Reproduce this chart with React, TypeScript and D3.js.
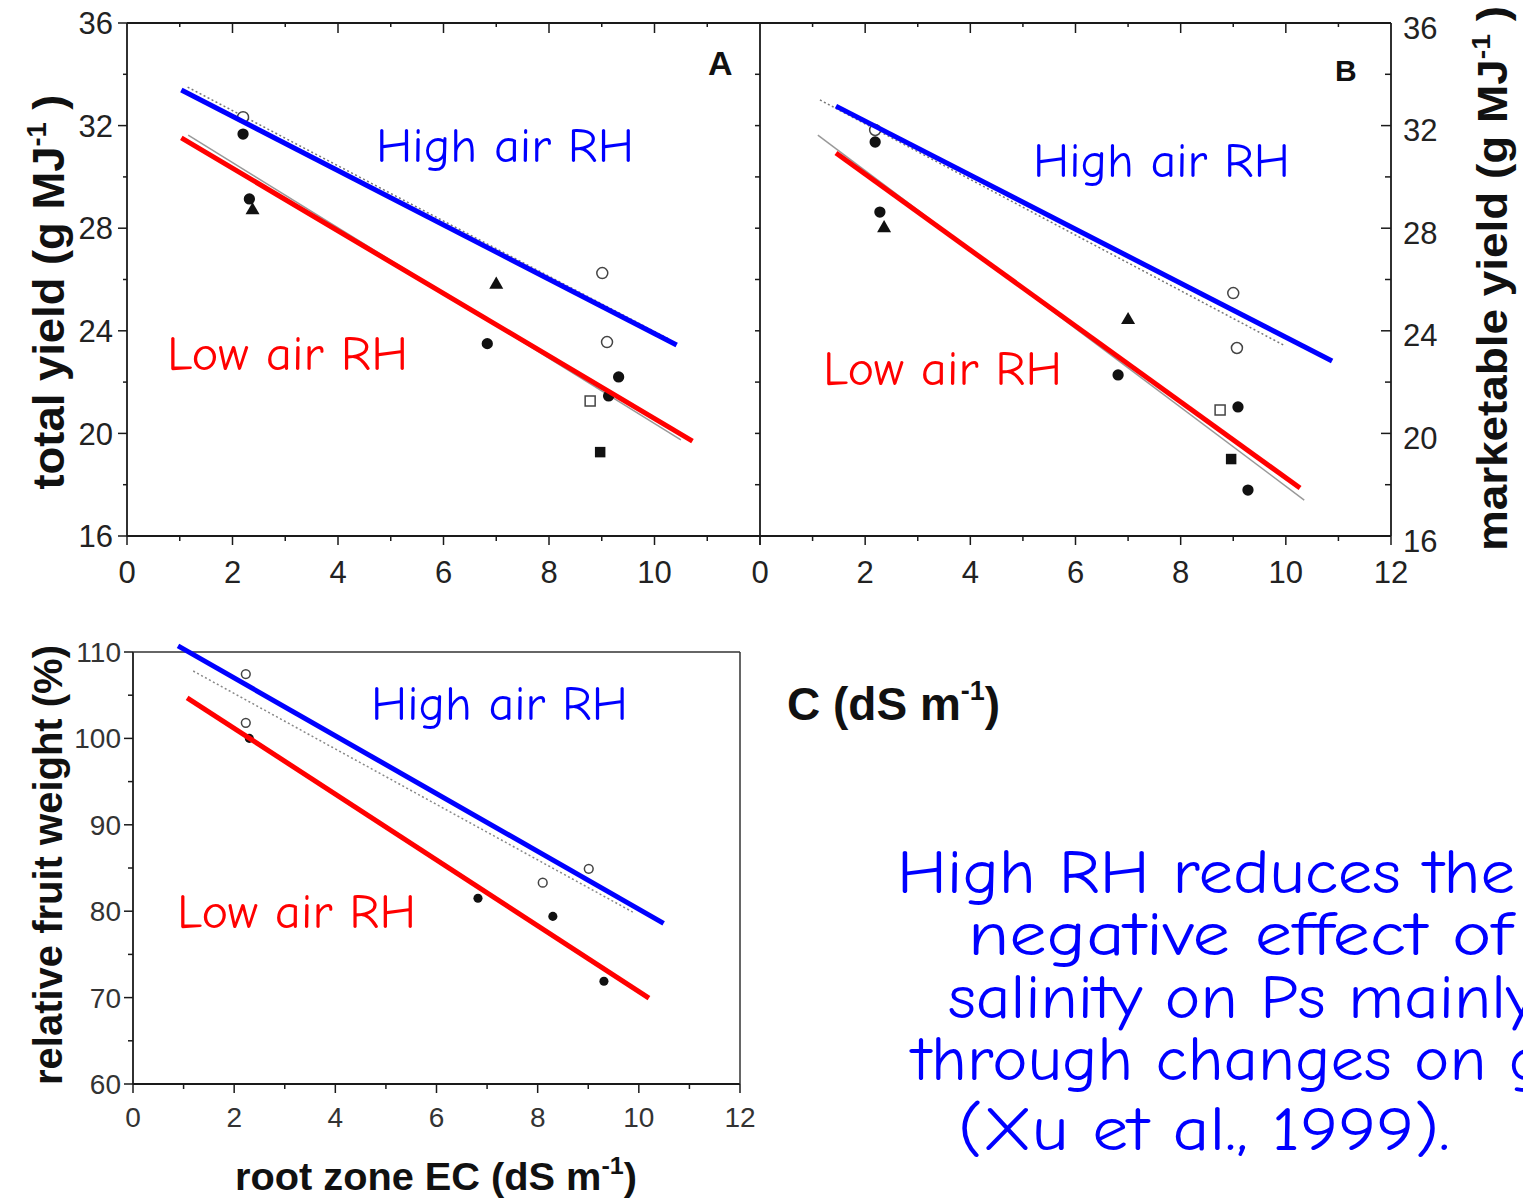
import React from 'react';
import * as d3 from 'd3';

// ---------- data ----------
const xTickValues = [0, 2, 4, 6, 8, 10, 12];
const xMinorTicks = [1, 3, 5, 7, 9, 11];
const xLabelsA = [0, 2, 4, 6, 8, 10];
const xLabelsB = [0, 2, 4, 6, 8, 10, 12];
const yieldTicks = [16, 20, 24, 28, 32, 36];
const yieldMinor = [18, 22, 26, 30, 34];
const fruitTicks = [60, 70, 80, 90, 100, 110];
const fruitMinor = [65, 75, 85, 95, 105];

// Panel A: total yield (g MJ-1) vs root zone EC
const aOpenCircles = [[2.2, 32.33], [9.01, 26.25], [9.1, 23.56]];
const aFilledCircles = [[2.2, 31.67], [2.32, 29.14], [6.83, 23.5], [9.32, 22.2], [9.13, 21.46]];
const aTriangles = [[2.38, 28.7], [7.0, 25.8]];
const aOpenSquares = [[8.78, 21.26]];
const aFilledSquares = [[8.97, 19.27]];
const aHighLine = [[1.03, 33.39], [10.42, 23.45]];
const aLowLine = [[1.03, 31.52], [10.72, 19.7]];
const aHighDotted = [[1.15, 33.5], [10.3, 23.65]];
const aLowGray = [[1.16, 31.63], [10.5, 19.75]];

// Panel B: marketable yield (g MJ-1)
const bOpenCircles = [[2.19, 31.83], [9.0, 25.47], [9.07, 23.33]];
const bFilledCircles = [[2.19, 31.36], [2.28, 28.63], [6.81, 22.28], [9.09, 21.03], [9.28, 17.79]];
const bTriangles = [[2.36, 28.0], [7.0, 24.42]];
const bOpenSquares = [[8.75, 20.91]];
const bFilledSquares = [[8.96, 19.0]];
const bHighLine = [[1.445, 32.76], [10.88, 22.82]];
const bLowLine = [[1.445, 30.93], [10.27, 17.87]];
const bHighDotted = [[1.14, 33.0], [9.95, 23.45]];
const bLowGray = [[1.1, 31.63], [10.35, 17.4]];

// Panel C: relative fruit weight (%)
const cOpenCircles = [[2.23, 107.45], [2.23, 101.8], [8.1, 83.3], [9.01, 84.9]];
const cFilledCircles = [[2.3, 100.0], [6.82, 81.5], [8.3, 79.4], [9.31, 71.9]];
const cHighLine = [[0.89, 110.7], [10.49, 78.6]];
const cLowLine = [[1.07, 104.7], [10.2, 69.95]];
const cHighDotted = [[1.19, 107.8], [9.88, 79.9]];

const noteLines = [
  'High RH reduces the',
  'negative effect of',
  'salinity on Ps mainly',
  'through changes on gs',
  '(Xu et al., 1999).',
];

// ---------- layout ----------
const W = 1523, H = 1200;
const FONT = '"Liberation Sans", Arial, Helvetica, sans-serif';
const COMIC = '"Comic Sans MS", "Comic Neue", "DejaVu Sans", sans-serif';
const AX = '#1a1a1a';

const xA = d3.scaleLinear().domain([0, 12]).range([127, 760]);
const xB = d3.scaleLinear().domain([0, 12]).range([760, 1391]);
const yAB = d3.scaleLinear().domain([16, 36]).range([536, 23]);
const xC = d3.scaleLinear().domain([0, 12]).range([133, 740]);
const yC = d3.scaleLinear().domain([60, 110]).range([1084, 652]);

type P = number[];

function Line({ pts, x, y, color, width, dash }: any) {
  const gen = d3.line<P>().x(d => x(d[0])).y(d => y(d[1]));
  return <path d={gen(pts) || ''} fill="none" stroke={color} strokeWidth={width} strokeDasharray={dash} />;
}

function Marks({ pts, x, y, kind, size }: any) {
  const typeMap: any = {
    circle: d3.symbolCircle, ocircle: d3.symbolCircle,
    triangle: d3.symbolTriangle, square: d3.symbolSquare, osquare: d3.symbolSquare,
  };
  const sym = d3.symbol().type(typeMap[kind]).size(size);
  const open = kind === 'ocircle' || kind === 'osquare';
  return (
    <g>
      {pts.map((p: P, i: number) => (
        <path key={i} d={sym() || ''} transform={`translate(${x(p[0])},${y(p[1])})`}
          fill={open ? 'white' : '#111'} stroke={open ? '#444' : 'none'} strokeWidth={open ? 1.5 : 0} />
      ))}
    </g>
  );
}

function HTicks({ vals, scale, y0, len }: any) {
  return <g>{vals.map((v: number) => <line key={v} x1={scale(v)} x2={scale(v)} y1={y0} y2={y0 + len} stroke={AX} strokeWidth={1.5} />)}</g>;
}
function VTicks({ vals, scale, x0, len }: any) {
  return <g>{vals.map((v: number) => <line key={v} x1={x0} x2={x0 + len} y1={scale(v)} y2={scale(v)} stroke={AX} strokeWidth={1.5} />)}</g>;
}

function Comic({ x, y, len, color, size = 48, children }: any) {
  return <text x={x} y={y} fill={color} fontFamily={COMIC} fontSize={size} textLength={len} lengthAdjust="spacingAndGlyphs">{children}</text>;
}

export default function App() {
  const oneUnitTicks = d3.range(0, 13);
  return (
    <svg width={W} height={H} style={{ position: 'absolute', left: 0, top: 0, background: 'white' }}>
      <rect width={W} height={H} fill="white" />

      {/* ---------- Panel A ---------- */}
      <g>
        <line x1={127} x2={127} y1={23} y2={536} stroke={AX} strokeWidth={1.8} />
        <line x1={127} x2={760} y1={536} y2={536} stroke={AX} strokeWidth={1.8} />
        <line x1={127} x2={760} y1={23} y2={23} stroke={AX} strokeWidth={1.8} />
        <line x1={760} x2={760} y1={23} y2={536} stroke={AX} strokeWidth={1.8} />
        <VTicks vals={yieldTicks} scale={yAB} x0={127} len={-9} />
        <VTicks vals={yieldMinor} scale={yAB} x0={127} len={-4} />
        <VTicks vals={[18, 20, 22, 24, 26, 28, 30, 32, 34]} scale={yAB} x0={760} len={-5} />
        <HTicks vals={xTickValues} scale={xA} y0={536} len={9} />
        <HTicks vals={xMinorTicks} scale={xA} y0={536} len={5} />
        <HTicks vals={oneUnitTicks.filter(v => v % 2 === 0 && v > 0 && v < 12)} scale={xA} y0={23} len={10} />
        <HTicks vals={oneUnitTicks.filter(v => v % 2 === 1)} scale={xA} y0={23} len={4} />
        {yieldTicks.map(v => (
          <text key={v} x={113} y={yAB(v)} dy="0.36em" textAnchor="end" fontFamily={FONT} fontSize={31} fill="#222">{v}</text>
        ))}
        {xLabelsA.map(v => (
          <text key={v} x={xA(v)} y={583} textAnchor="middle" fontFamily={FONT} fontSize={31} fill="#222">{v}</text>
        ))}
        <text x={708} y={75} fontFamily={FONT} fontWeight="bold" fontSize={34} fill="#111">A</text>

        <Line pts={aHighDotted} x={xA} y={yAB} color="#777" width={1.5} dash="2,2.5" />
        <Line pts={aLowGray} x={xA} y={yAB} color="#999" width={1.5} />
        <Marks pts={aOpenCircles} x={xA} y={yAB} kind="ocircle" size={95} />
        <Marks pts={aFilledCircles} x={xA} y={yAB} kind="circle" size={100} />
        <Marks pts={aTriangles} x={xA} y={yAB} kind="triangle" size={85} />
        <Marks pts={aOpenSquares} x={xA} y={yAB} kind="osquare" size={100} />
        <Marks pts={aFilledSquares} x={xA} y={yAB} kind="square" size={110} />
        <Line pts={aHighLine} x={xA} y={yAB} color="#0000ff" width={5} />
        <Line pts={aLowLine} x={xA} y={yAB} color="#ff0000" width={5} />
        <Comic x={376} y={162} len={258} color="#0000ff">High air RH</Comic>
        <Comic x={167} y={370} len={241} color="#ff0000">Low air RH</Comic>

        <text transform="translate(64,292) rotate(-90)" textAnchor="middle" fontFamily={FONT} fontWeight="bold" fontSize={45} fill="#111" textLength={395} lengthAdjust="spacingAndGlyphs">
          total yield (g MJ<tspan fontSize={27} dy={-18}>-1</tspan><tspan dy={18}> )</tspan>
        </text>
      </g>

      {/* ---------- Panel B ---------- */}
      <g>
        <line x1={760} x2={1391} y1={536} y2={536} stroke={AX} strokeWidth={1.8} />
        <line x1={760} x2={1391} y1={23} y2={23} stroke={AX} strokeWidth={1.8} />
        <line x1={1391} x2={1391} y1={23} y2={536} stroke={AX} strokeWidth={1.8} />
        <VTicks vals={yieldTicks} scale={yAB} x0={1391} len={-10} />
        <VTicks vals={yieldMinor} scale={yAB} x0={1391} len={-6} />
        <HTicks vals={xTickValues} scale={xB} y0={536} len={9} />
        <HTicks vals={xMinorTicks} scale={xB} y0={536} len={5} />
        <HTicks vals={oneUnitTicks.filter(v => v % 2 === 0 && v > 0 && v < 12)} scale={xB} y0={23} len={10} />
        <HTicks vals={oneUnitTicks.filter(v => v % 2 === 1)} scale={xB} y0={23} len={4} />
        {yieldTicks.map(v => (
          <text key={v} x={1403} y={yAB(v)} dy="0.5em" textAnchor="start" fontFamily={FONT} fontSize={31} fill="#222">{v}</text>
        ))}
        {xLabelsB.map(v => (
          <text key={v} x={xB(v)} y={583} textAnchor="middle" fontFamily={FONT} fontSize={31} fill="#222">{v}</text>
        ))}
        <text x={1335} y={81} fontFamily={FONT} fontWeight="bold" fontSize={30} fill="#111">B</text>

        <Line pts={bHighDotted} x={xB} y={yAB} color="#777" width={1.5} dash="2,2.5" />
        <Line pts={bLowGray} x={xB} y={yAB} color="#999" width={1.5} />
        <Marks pts={bOpenCircles} x={xB} y={yAB} kind="ocircle" size={95} />
        <Marks pts={bFilledCircles} x={xB} y={yAB} kind="circle" size={100} />
        <Marks pts={bTriangles} x={xB} y={yAB} kind="triangle" size={85} />
        <Marks pts={bOpenSquares} x={xB} y={yAB} kind="osquare" size={100} />
        <Marks pts={bFilledSquares} x={xB} y={yAB} kind="square" size={110} />
        <Line pts={bHighLine} x={xB} y={yAB} color="#0000ff" width={5} />
        <Line pts={bLowLine} x={xB} y={yAB} color="#ff0000" width={5} />
        <Comic x={1033} y={177} len={257} color="#0000ff">High air RH</Comic>
        <Comic x={823} y={385} len={239} color="#ff0000">Low air RH</Comic>

        <text transform="translate(1507,551) rotate(-90)" textAnchor="start" fontFamily={FONT} fontWeight="bold" fontSize={42} fill="#111" textLength={545} lengthAdjust="spacingAndGlyphs">
          marketable yield (g MJ<tspan fontSize={26} dy={-17}>-1</tspan><tspan dy={17}> )</tspan>
        </text>
      </g>

      {/* ---------- Panel C ---------- */}
      <g>
        <line x1={133} x2={133} y1={652} y2={1084} stroke={AX} strokeWidth={1.8} />
        <line x1={133} x2={740} y1={1084} y2={1084} stroke={AX} strokeWidth={1.8} />
        <line x1={133} x2={740} y1={652} y2={652} stroke="#333" strokeWidth={1.5} />
        <line x1={740} x2={740} y1={652} y2={1084} stroke="#333" strokeWidth={1.5} />
        <VTicks vals={fruitTicks} scale={yC} x0={133} len={-9} />
        <VTicks vals={fruitMinor} scale={yC} x0={133} len={-5} />
        <HTicks vals={xTickValues} scale={xC} y0={1084} len={9} />
        <HTicks vals={xMinorTicks} scale={xC} y0={1084} len={5} />
        {fruitTicks.map(v => (
          <text key={v} x={121} y={yC(v)} dy="0.36em" textAnchor="end" fontFamily={FONT} fontSize={28} fill="#333">{v}</text>
        ))}
        {xTickValues.map(v => (
          <text key={v} x={xC(v)} y={1127} textAnchor="middle" fontFamily={FONT} fontSize={28} fill="#333">{v}</text>
        ))}

        <Line pts={cHighDotted} x={xC} y={yC} color="#888" width={1.5} dash="2,2.5" />
        <Marks pts={cOpenCircles} x={xC} y={yC} kind="ocircle" size={60} />
        <Marks pts={cFilledCircles} x={xC} y={yC} kind="circle" size={65} />
        <Line pts={cHighLine} x={xC} y={yC} color="#0000ff" width={5} />
        <Line pts={cLowLine} x={xC} y={yC} color="#ff0000" width={5} />
        <Comic x={371} y={720} len={257} color="#0000ff">High air RH</Comic>
        <Comic x={177} y={928} len={239} color="#ff0000">Low air RH</Comic>

        <text transform="translate(62,865) rotate(-90)" textAnchor="middle" fontFamily={FONT} fontWeight="bold" fontSize={40} fill="#111" textLength={440} lengthAdjust="spacingAndGlyphs">
          relative fruit weight (%)
        </text>
        <text x={235} y={1190} fontFamily={FONT} fontWeight="bold" fontSize={38} fill="#111" textLength={402} lengthAdjust="spacingAndGlyphs">
          root zone EC (dS m<tspan fontSize={24} dy={-16}>-1</tspan><tspan dy={16}>)</tspan>
        </text>
      </g>

      {/* ---------- C label and note ---------- */}
      <text x={787} y={720} fontFamily={FONT} fontWeight="bold" fontSize={46} fill="#111">
        C (dS m<tspan fontSize={27} dy={-20}>-1</tspan><tspan dy={20}>)</tspan>
      </text>

      <g fill="#0000ff" fontFamily={COMIC} fontSize={62}>
        <text x={897} y={893} textLength={618} lengthAdjust="spacingAndGlyphs">{noteLines[0]}</text>
        <text x={968} y={955} textLength={544} lengthAdjust="spacingAndGlyphs">{noteLines[1]}</text>
        <text x={948} y={1018} textLength={588} lengthAdjust="spacingAndGlyphs">{noteLines[2]}</text>
        <text x={912} y={1080} textLength={660} lengthAdjust="spacingAndGlyphs">{noteLines[3]}</text>
        <text x={958} y={1150} textLength={492} lengthAdjust="spacingAndGlyphs">{noteLines[4]}</text>
      </g>
    </svg>
  );
}
